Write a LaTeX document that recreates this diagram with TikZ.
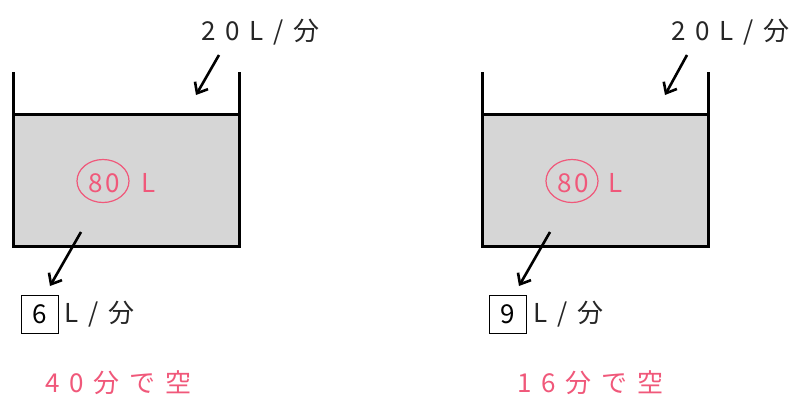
\documentclass[tikz,border=0pt]{standalone}
\usepackage{fontspec}
\usetikzlibrary{arrows.meta,shapes.geometric}
\newfontfamily\jpfont[LetterSpace=38]{Noto Sans CJK JP}
\newfontfamily\jpnum[LetterSpace=8]{Noto Sans CJK JP}
\definecolor{pinkc}{RGB}{240,88,122}
\definecolor{waterc}{RGB}{214,214,214}
\begin{document}
\begin{tikzpicture}[x=1pt,y=-1pt,
  wall/.style={line width=3pt,line cap=rect},
  flow/.style={line width=2.6pt,-{Straight Barb[length=9pt,width=15pt,line width=2.6pt]}},
  lbl/.style={font=\jpfont\fontsize{26}{26}\selectfont,inner sep=0pt,text=black!85,anchor=west},
  pk/.style={font=\jpfont\fontsize{26}{26}\selectfont,inner sep=0pt,text=pinkc,anchor=west},
  ansbox/.style={draw,line width=0.9pt,minimum width=37pt,minimum height=38pt,inner sep=0pt,font=\jpnum\fontsize{26}{26}\selectfont},
  ring/.style={draw=pinkc,line width=1.2pt,ellipse,minimum width=52pt,minimum height=43pt,inner sep=0pt}]
\useasboundingbox (0,0) rectangle (793,399);
% ---------- left tank ----------
\fill[waterc] (13,114) rectangle (239,246);
\draw[wall] (13,73) -- (13,246) -- (239,246) -- (239,73);
\draw[wall] (13,114) -- (239,114);
\node[lbl] (tinL) at (201,32) {20L/分};
\coordinate (a1s) at (219,55);
\coordinate (a1e) at (196,95);
\draw[flow] (a1s) -- (a1e);
\node[ring] (r1) at (103,181) {};
\node[pk,font=\jpnum\fontsize{26}{26}\selectfont,anchor=center] (v1) at (104,183) {80};
\node[pk] (u1) at (141,183) {L};
\coordinate (b1s) at (81,232);
\coordinate (b1e) at (50,286);
\draw[flow] (b1s) -- (b1e);
\node[ansbox] (x1) at (39.5,314) {6};
\node[lbl] (o1) at (64,314) {L/分};
\node[pk] (res1) at (45,383) {40分で空};
% ---------- right tank ----------
\fill[waterc] (482,114) rectangle (708,246);
\draw[wall] (482,73) -- (482,246) -- (708,246) -- (708,73);
\draw[wall] (482,114) -- (708,114);
\node[lbl] (tinR) at (671,32) {20L/分};
\coordinate (a2s) at (687,55);
\coordinate (a2e) at (665,95);
\draw[flow] (a2s) -- (a2e);
\node[ring] (r2) at (572,181) {};
\node[pk,font=\jpnum\fontsize{26}{26}\selectfont,anchor=center] (v2) at (573,183) {80};
\node[pk] (u2) at (608,183) {L};
\coordinate (b2s) at (550,232);
\coordinate (b2e) at (519,286);
\draw[flow] (b2s) -- (b2e);
\node[ansbox] (x2) at (508,314) {9};
\node[lbl] (o2) at (533,314) {L/分};
\node[pk] (res2) at (517,383) {16分で空};
\end{tikzpicture}
\end{document}
